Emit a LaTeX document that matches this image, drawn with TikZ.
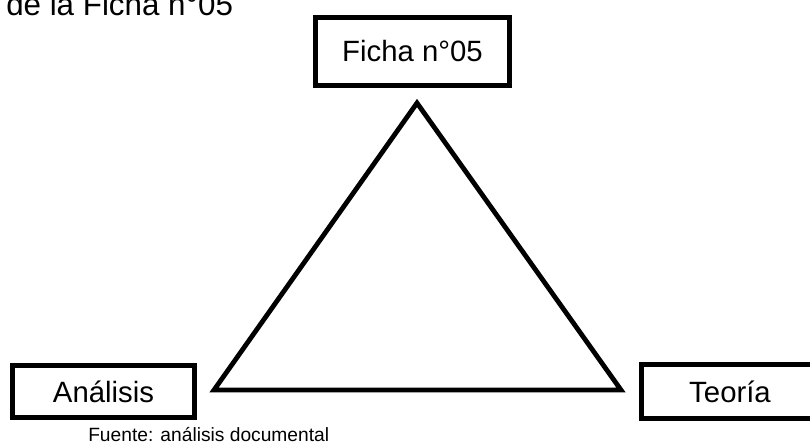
\documentclass[tikz,border=0pt]{standalone}
\usepackage{fontspec}
\setmainfont{Liberation Sans}
\begin{document}
\begin{tikzpicture}[x=0.75pt,y=-0.75pt,
  boxnode/.style={draw=black, line width=3.5pt, inner sep=0pt, font=\fontsize{22pt}{26pt}\selectfont},
  triline/.style={draw=black, line width=3.6pt, line join=miter}]
\useasboundingbox (0,0) rectangle (810,446);
\clip (0,0) rectangle (810,446);
\fill[white] (0,0) rectangle (810,446);
\node[anchor=base west, inner sep=0pt, font=\fontsize{23.5pt}{28pt}\selectfont] (title) at (6,15) {de la Ficha n°05};
\node[boxnode, minimum width=145.5pt, minimum height=51pt] (ficha) at (412.5,51.5) {Ficha n°05};
\node[boxnode, minimum width=136.5pt, minimum height=39pt] (analisis) at (103.5,391.5) {Análisis};
\node[boxnode, minimum width=133pt, minimum height=40.5pt] (teoria) at (730,391.5) {Teoría};
\coordinate (A) at (214,390);
\coordinate (B) at (621,390);
\coordinate (C) at (417,103);
\draw[triline] (A) -- (B) -- (C) -- cycle;
\node[anchor=base west, inner sep=0pt, font=\fontsize{14.4pt}{17pt}\selectfont] (fuente) at (88,441) {Fuente: análisis documental};
\end{tikzpicture}
\end{document}
